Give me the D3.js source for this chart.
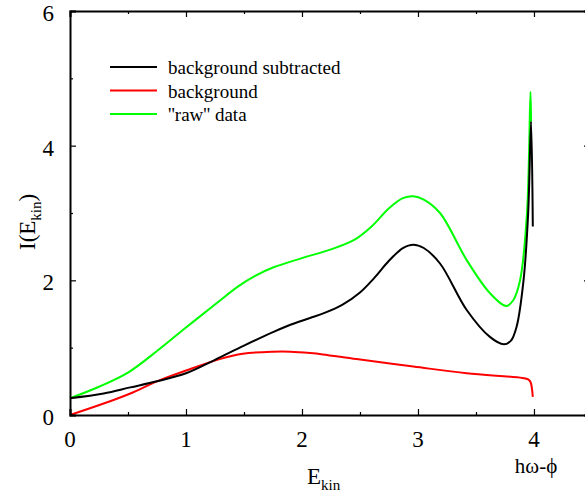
<!DOCTYPE html>
<html>
<head>
<meta charset="utf-8">
<script src="https://cdn.jsdelivr.net/npm/d3@7"></script>
<style>
  body { margin: 0; background: #fff; }
  svg { display: block; }
  text { font-family: "Liberation Serif", "DejaVu Serif", serif; }
</style>
</head>
<body>
<svg id="chart" width="585" height="498"></svg>
<script>
// values
var subX = [0, 0.29, 0.52, 0.75, 1.0, 1.25, 1.5, 1.75, 1.90, 2.07, 2.2, 2.35, 2.5, 2.62, 2.75, 2.87, 2.96, 3.05, 3.19, 3.42, 3.62, 3.74, 3.80, 3.85, 3.91, 3.95, 3.975, 3.99];
var subY = [0.25, 0.32, 0.41, 0.50, 0.62, 0.82, 1.03, 1.23, 1.34, 1.44, 1.52, 1.64, 1.82, 2.03, 2.29, 2.48, 2.53, 2.48, 2.25, 1.56, 1.16, 1.05, 1.10, 1.31, 2.0, 3.0, 4.36, 2.80];

var bgX = [0, 0.29, 0.52, 0.75, 1.0, 1.29, 1.49, 1.75, 1.90, 2.07, 2.18, 2.47, 2.96, 3.42, 3.90, 3.95, 3.97, 3.99];
var bgY = [0, 0.17, 0.32, 0.50, 0.66, 0.83, 0.91, 0.94, 0.94, 0.92, 0.90, 0.83, 0.72, 0.62, 0.55, 0.53, 0.49, 0.27];

var rawX = [0, 0.25, 0.5, 0.75, 1.0, 1.25, 1.45, 1.6, 1.75, 2.0, 2.25, 2.45, 2.6, 2.75, 2.87, 2.96, 3.05, 3.19, 3.42, 3.62, 3.76, 3.82, 3.88, 3.94, 3.97, 3.975];
var rawY = [0.25, 0.42, 0.63, 0.95, 1.30, 1.64, 1.91, 2.07, 2.19, 2.33, 2.46, 2.60, 2.80, 3.07, 3.22, 3.25, 3.20, 3.0, 2.30, 1.81, 1.62, 1.70, 2.0, 3.0, 4.80, 4.36];

var xTicks = [0, 1, 2, 3, 4];
var yTicks = [0, 2, 4, 6];
var legendLabels = ["background subtracted", "background", "''raw'' data"];
var colors = ["#000000", "#ff0000", "#00ff00"];

var serif = "Liberation Serif";

var svg = d3.select("#chart");

var x = d3.scaleLinear().domain([0, 4.483]).range([70, 590]);
var y = d3.scaleLinear().domain([0, 6]).range([415, 11]);

function pairs(xs, ys) {
    return xs.map(function (v, i) { return [v, ys[i]]; });
}

var series = [pairs(subX, subY), pairs(bgX, bgY), pairs(rawX, rawY)];

var line = d3.line()
    .x(function (d) { return x(d[0]); })
    .y(function (d) { return y(d[1]); })
    .curve(d3.curveCatmullRom.alpha(0.5));

// curves (raw first so black sits on top)
svg.append("g")
    .selectAll("path")
    .data([2, 1, 0])
    .enter().append("path")
    .attr("d", function (i) { return line(series[i]); })
    .attr("fill", "none")
    .attr("stroke", function (i) { return colors[i]; })
    .attr("stroke-width", 2);

// axes: ticks point inward on all four sides
function tickAxis(axis, g, major, minor) {
    g.call(axis.tickValues(major).tickSize(6).tickFormat(""));
    g.append("g").call(axis.tickValues(minor).tickSize(3).tickFormat(""))
        .select(".domain").remove();
}

var minorX = [0.5, 1.5, 2.5, 3.5, 4.5].filter(function (v) { return v < 4.483; });
var minorY = [1, 3, 5];

tickAxis(d3.axisTop(x), svg.append("g").attr("transform", "translate(0," + y(0) + ")"), xTicks, minorX);
tickAxis(d3.axisBottom(x), svg.append("g").attr("transform", "translate(0," + y(6) + ")"), xTicks, minorX);
tickAxis(d3.axisRight(y), svg.append("g").attr("transform", "translate(" + x(0) + ",0)"), yTicks, minorY);
tickAxis(d3.axisLeft(y), svg.append("g").attr("transform", "translate(" + x(4.483) + ",0)"), yTicks, minorY);

svg.selectAll(".domain").attr("stroke-width", 2).attr("stroke", "#000");
svg.selectAll(".tick line").attr("stroke-width", 1.2).attr("stroke", "#000");

// tick labels
svg.append("g").selectAll("text")
    .data(xTicks)
    .enter().append("text")
    .attr("x", function (d) { return x(d); })
    .attr("y", 447)
    .attr("text-anchor", "middle")
    .attr("font-family", serif)
    .attr("font-size", 23)
    .text(function (d) { return d; });

svg.append("g").selectAll("text")
    .data(yTicks)
    .enter().append("text")
    .attr("x", 54)
    .attr("y", function (d) { return y(d) + 10; })
    .attr("text-anchor", "end")
    .attr("font-family", serif)
    .attr("font-size", 23)
    .text(function (d) { return d; });

// axis titles
var xt = svg.append("text")
    .attr("x", 307)
    .attr("y", 484)
    .attr("font-family", serif)
    .attr("font-size", 23);
xt.append("tspan").text("E");
xt.append("tspan").attr("font-size", 15).attr("dy", 6).text("kin");

svg.append("text")
    .attr("x", 536)
    .attr("y", 473)
    .attr("text-anchor", "middle")
    .attr("font-family", serif)
    .attr("font-size", 21)
    .text("h\u03c9-\u03d5");

var yt = svg.append("text")
    .attr("transform", "translate(35,250) rotate(-90)")
    .attr("font-family", serif)
    .attr("font-size", 23);
yt.append("tspan").text("I(E");
yt.append("tspan").attr("font-size", 15).attr("dy", 6).text("kin");
yt.append("tspan").attr("dy", -6).text(")");

// legend
var legend = svg.append("g").selectAll("g")
    .data(legendLabels)
    .enter().append("g")
    .attr("transform", function (d, i) { return "translate(0," + (67 + i * 23.5) + ")"; });

legend.append("line")
    .attr("x1", 110).attr("x2", 157)
    .attr("stroke", function (d, i) { return colors[i]; })
    .attr("stroke-width", 2);

legend.append("text")
    .attr("x", 168)
    .attr("y", 7)
    .attr("font-family", serif)
    .attr("font-size", 19)
    .text(function (d) { return d; });
</script>
</body>
</html>
